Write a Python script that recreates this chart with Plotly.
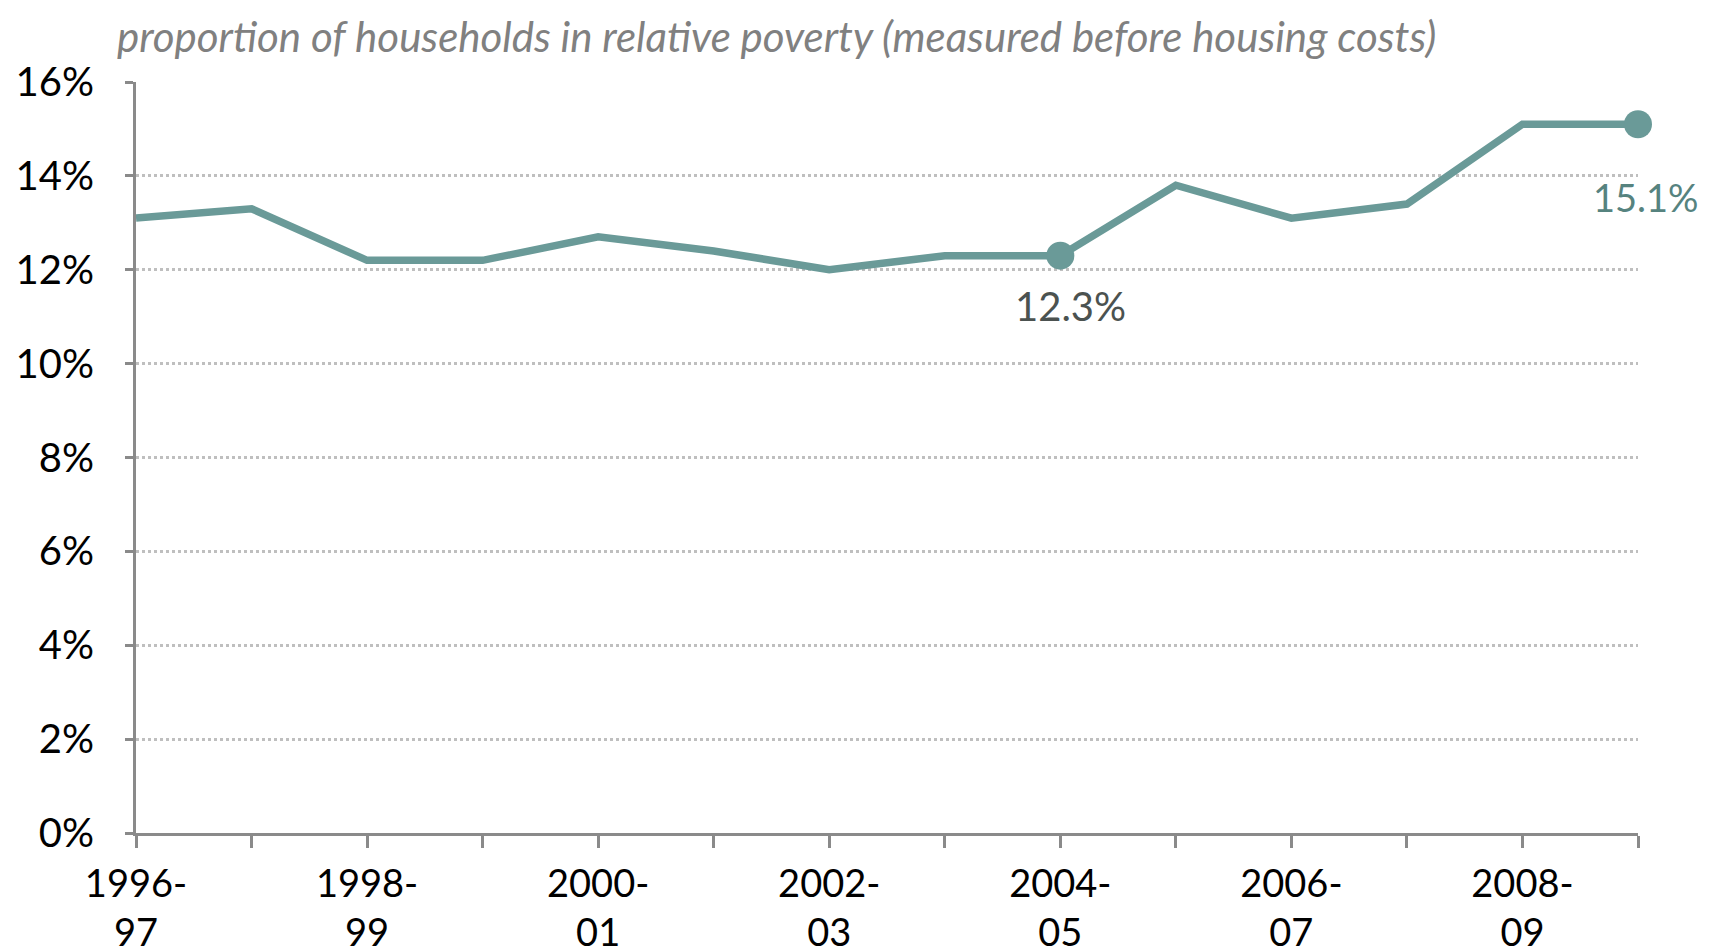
import plotly.graph_objects as go

# proportion of households in relative poverty, before housing costs (%)
years = ["1996-97", "1997-98", "1998-99", "1999-00", "2000-01", "2001-02", "2002-03",
         "2003-04", "2004-05", "2005-06", "2006-07", "2007-08", "2008-09", "2009-10"]
poverty = [13.1, 13.3, 12.2, 12.2, 12.7, 12.4, 12.0,
           12.3, 12.3, 13.8, 13.1, 13.4, 15.1, 15.1]

# only every second year gets a label, split over two lines
tick_text = [y.replace("-", "-<br>") if i % 2 == 0 else "" for i, y in enumerate(years)]

highlight = ["2004-05", "2009-10"]
highlight_vals = [poverty[years.index(h)] for h in highlight]

line_col = "#6a9a98"
font_name = "Lato, 'Open Sans', sans-serif"

fig = go.Figure()
fig.add_trace(go.Scatter(x=years, y=poverty, mode="lines",
                         line=dict(color=line_col, width=7.5),
                         cliponaxis=False, hoverinfo="x+y"))
fig.add_trace(go.Scatter(x=highlight, y=highlight_vals, mode="markers",
                         marker=dict(color=line_col, size=28),
                         cliponaxis=False, hoverinfo="x+y"))

fig.add_annotation(x="2004-05", y=highlight_vals[0], text="12.3%", showarrow=False,
                   xshift=10, yshift=-50, font=dict(size=40, color="#4b5250", family=font_name))
fig.add_annotation(x="2009-10", y=highlight_vals[1], text="15.1%", showarrow=False,
                   xshift=8, yshift=-73, font=dict(size=38, color="#56837f", family=font_name))

fig.add_annotation(xref="paper", yref="paper", x=-0.0143, y=1.0, yshift=46,
                   xanchor="left", yanchor="middle", showarrow=False,
                   text="<i>proportion of households in relative poverty (measured before housing costs)</i>",
                   font=dict(size=42, color="#808080", family=font_name))

fig.update_xaxes(type="category", range=[0, len(years) - 1], automargin=False,
                 tickvals=years, ticktext=tick_text,
                 showline=True, linecolor="#8a8a8a", linewidth=3,
                 ticks="outside", ticklen=12, tickwidth=3, tickcolor="#8a8a8a",
                 ticklabelstandoff=3,
                 showgrid=False, tickfont=dict(size=38, color="#000000", family=font_name))
fig.update_yaxes(range=[0, 16], dtick=2, ticksuffix="%", automargin=False,
                 showline=True, linecolor="#8a8a8a", linewidth=3,
                 ticks="outside", ticklen=8, tickwidth=3, tickcolor="#8a8a8a",
                 ticklabelstandoff=23,
                 showgrid=True, gridcolor="#bfbfbf", gridwidth=3, griddash="dot",
                 zeroline=False, tickfont=dict(size=40, color="#000000", family=font_name))

fig.update_layout(width=1709, height=952, showlegend=False,
                  plot_bgcolor="white", paper_bgcolor="white",
                  margin=dict(l=128, r=79, t=74, b=127))

fig.write_html("out.html")
